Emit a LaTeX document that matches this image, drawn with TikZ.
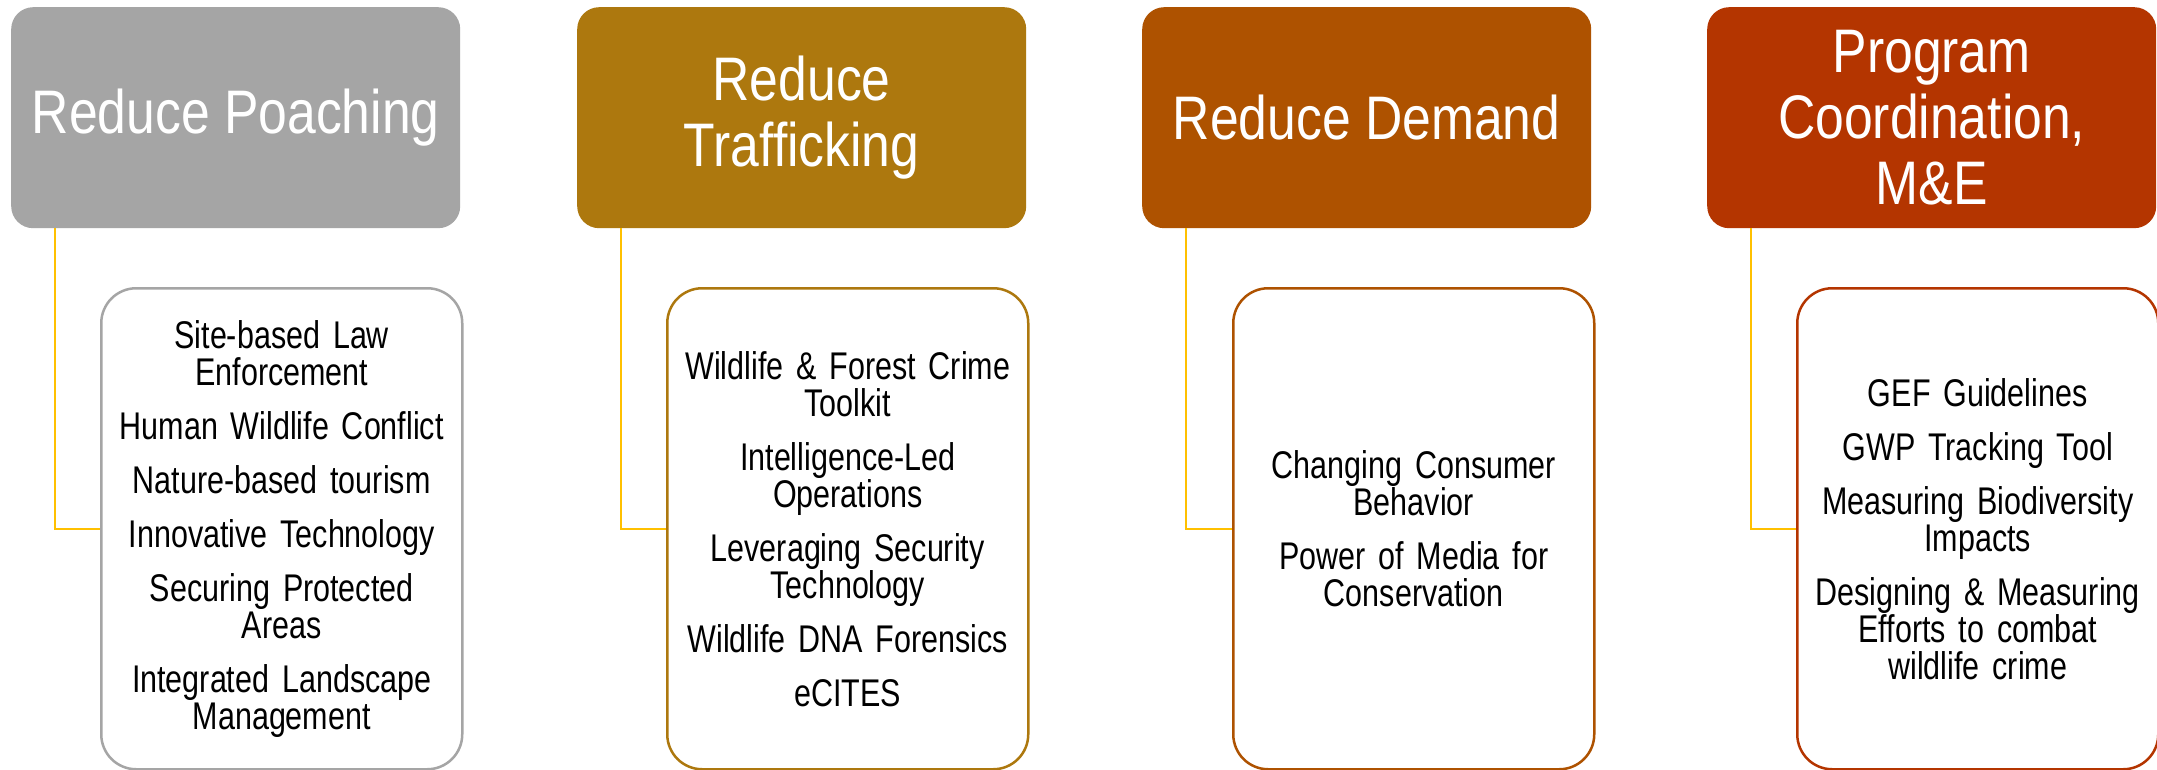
\documentclass[tikz,border=0pt]{standalone}
\usepackage{fontspec}
\setmainfont{Liberation Sans}
\newfontfamily\headfont{Liberation Sans}[FakeStretch=0.84]
\newfontfamily\childfont{Liberation Sans}[FakeStretch=0.79]
\definecolor{cA}{HTML}{A5A5A5}
\definecolor{cB}{HTML}{AD780E}
\definecolor{cC}{HTML}{AE5200}
\definecolor{cD}{HTML}{B43500}
\definecolor{conn}{HTML}{FFC000}
\tikzset{
  header/.style={fill=#1, draw=none, rounded corners=22pt, minimum width=449pt, minimum height=221pt,
    text=white, align=center, anchor=north west, inner sep=0pt,
    font=\headfont\fontsize{61.5}{66}\selectfont},
  child/.style={fill=white, draw=#1, line width=2.5pt, rounded corners=35pt, minimum width=361pt, minimum height=481pt,
    text=black, align=center, anchor=north west, inner sep=0pt, text width=355pt,
    font=\childfont\fontsize{38.6}{37}\selectfont},
  connline/.style={draw=conn, line width=2.2pt},
}
\begin{document}
\begin{tikzpicture}[x=1pt,y=-1pt]
\useasboundingbox (0,0) rectangle (2157,770);
\fill[white] (0,0) rectangle (2157,770);
% headers
\node[header=cA] (h1) at (11,7) {Reduce Poaching};
\node[header=cB] (h2) at (577,7) {Reduce\\Trafficking};
\node[header=cC] (h3) at (1142,7) {Reduce Demand};
\node[header=cD] (h4) at (1707,7) {Program\\Coordination,\\M\&E};
% children
\node[child=cA] (c1) at (100,287) {Site-based Law\\Enforcement\\[17pt]Human Wildlife Conflict\\[17pt]Nature-based tourism\\[17pt]Innovative Technology\\[17pt]Securing Protected\\Areas\\[17pt]Integrated Landscape\\Management};
\node[child=cB] (c2) at (666,287) {Wildlife \& Forest Crime\\Toolkit\\[17pt]Intelligence-Led\\Operations\\[17pt]Leveraging Security\\Technology\\[17pt]Wildlife DNA Forensics\\[17pt]eCITES};
\node[child=cC] (c3) at (1232,287) {Changing Consumer\\Behavior\\[17pt]Power of Media for\\Conservation};
\node[child=cD] (c4) at (1796,287) {GEF Guidelines\\[17pt]GWP Tracking Tool\\[17pt]Measuring Biodiversity\\Impacts\\[17pt]Designing \& Measuring\\Efforts to combat\\wildlife crime};
% connectors
\draw[connline] ([xshift=44pt]h1.south west) |- (c1.west);
\draw[connline] ([xshift=44pt]h2.south west) |- (c2.west);
\draw[connline] ([xshift=44pt]h3.south west) |- (c3.west);
\draw[connline] ([xshift=44pt]h4.south west) |- (c4.west);
\end{tikzpicture}
\end{document}
